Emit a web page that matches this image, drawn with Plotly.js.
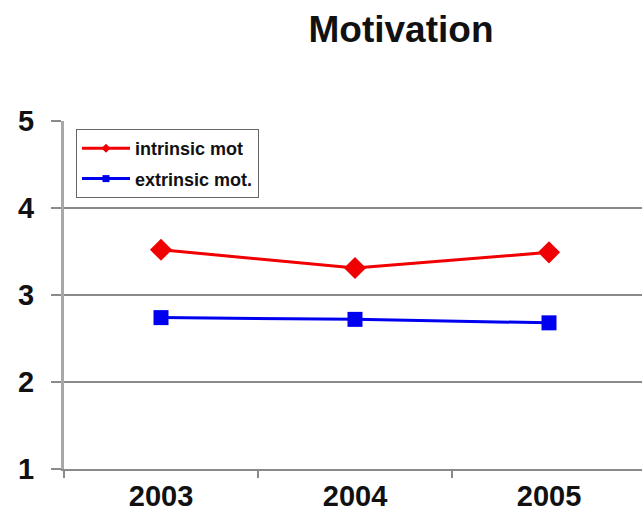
<!DOCTYPE html>
<html>
<head>
<meta charset="utf-8">
<script src="https://cdn.plot.ly/plotly-3.0.1.min.js"></script>
<style>
  html, body { margin: 0; padding: 0; background: #fff; overflow: hidden; }
  #chart { width: 660px; height: 523px; }
</style>
</head>
<body>
<div id="chart"></div>
<script>
// Survey years and mean motivation scores (1–5 scale)
const years = ["2003", "2004", "2005"];
const intrinsicMot = [3.52, 3.31, 3.49];
const extrinsicMot = [2.74, 2.72, 2.68];
const seriesNames = ["intrinsic mot", "extrinsic mot."];
const yTicks = [1, 2, 3, 4, 5];

const RED = "#f00000";
const BLUE = "#0000f0";
const GRID = "#8a8a8a";
const FONT = "Liberation Sans, Arial, sans-serif";

const traces = [
  {
    x: years, y: intrinsicMot, type: "scatter", mode: "lines+markers",
    line: { color: RED, width: 3 },
    marker: { symbol: "diamond", size: 17, color: RED },
    showlegend: false, hoverinfo: "skip"
  },
  {
    x: years, y: extrinsicMot, type: "scatter", mode: "lines+markers",
    line: { color: BLUE, width: 3 },
    marker: { symbol: "square", size: 15, color: BLUE },
    showlegend: false, hoverinfo: "skip"
  },
  // legend entries with the smaller key markers
  {
    x: [years[0]], y: [null], type: "scatter", mode: "lines+markers",
    name: seriesNames[0], legendgroup: "a",
    line: { color: RED, width: 3 },
    marker: { symbol: "diamond", size: 7, color: RED }
  },
  {
    x: [years[0]], y: [null], type: "scatter", mode: "lines+markers",
    name: seriesNames[1], legendgroup: "b",
    line: { color: BLUE, width: 3 },
    marker: { symbol: "square", size: 7, color: BLUE }
  }
];

const layout = {
  width: 660, height: 523,
  margin: { l: 64, r: 14, t: 121, b: 54 },
  paper_bgcolor: "#fff", plot_bgcolor: "#fff",
  font: { family: FONT, color: "#000" },
  title: {
    text: "<b>Motivation</b>",
    font: { family: FONT, size: 37, color: "#111" },
    xref: "container", x: 401 / 660, xanchor: "center",
    yref: "container", y: 1 - 29 / 523, yanchor: "middle"
  },
  xaxis: {
    type: "category",
    range: [-0.5, 2.5],
    tickson: "boundaries",
    ticks: "outside", ticklen: 7, tickwidth: 2, tickcolor: GRID,
    showgrid: false, zeroline: false,
    showline: true, linecolor: GRID, linewidth: 2,
    tickfont: { family: FONT, size: 29, color: "#111", weight: "bold" },
    fixedrange: true
  },
  yaxis: {
    range: [1, 5],
    tickvals: yTicks,
    ticktext: yTicks.map(String),
    ticks: "outside", ticklen: 10, tickwidth: 2, tickcolor: GRID,
    ticklabelstandoff: 11,
    showgrid: true, gridcolor: GRID, gridwidth: 2,
    zeroline: false,
    showline: true, linecolor: "#a8a8a8", linewidth: 3,
    tickfont: { family: FONT, size: 29, color: "#111", weight: "bold" },
    fixedrange: true
  },
  showlegend: true,
  legend: {
    x: 12 / 582, xanchor: "left",
    y: 1 - 8 / 348, yanchor: "top",
    bgcolor: "#fff", bordercolor: "#666", borderwidth: 1,
    traceorder: "grouped", tracegroupgap: 4,
    itemwidth: 48,
    font: { family: FONT, size: 18, color: "#111", weight: "bold" }
  },
  hovermode: false
};

Plotly.newPlot("chart", traces, layout, { staticPlot: true, displayModeBar: false });
</script>
</body>
</html>
